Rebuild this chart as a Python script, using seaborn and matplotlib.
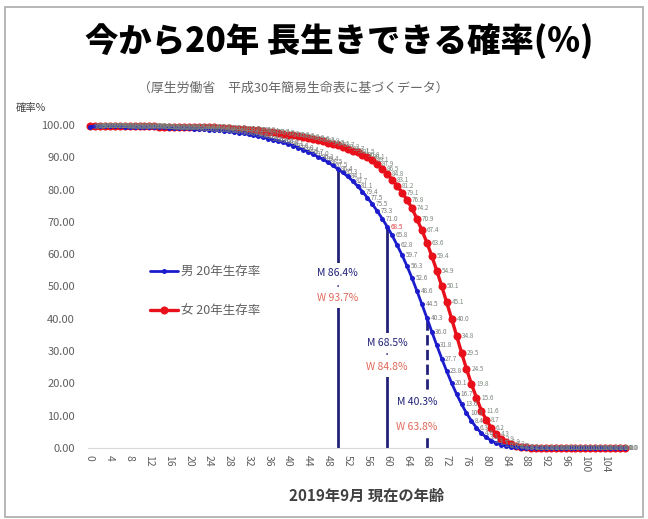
import matplotlib
matplotlib.use("Agg")
import matplotlib.pyplot as plt
import seaborn as sns
import pandas as pd
from matplotlib.patches import Rectangle

ages = list(range(0, 109))

male = [99.5, 99.6, 99.6, 99.6, 99.6, 99.6, 99.6, 99.5, 99.5, 99.5,
        99.4, 99.4, 99.4, 99.3, 99.3, 99.3, 99.2, 99.2, 99.1, 99.1,
        99.0, 98.9, 98.8, 98.7, 98.6, 98.5, 98.4, 98.2, 98.0, 97.8,
        97.6, 97.4, 97.1, 96.8, 96.5, 96.2, 95.8, 95.4, 95.0, 94.6,
        94.1, 93.6, 93.0, 92.4, 91.7, 91.0, 90.2, 89.4, 88.5, 87.5,
        86.4, 85.3, 84.1, 82.7, 81.1, 79.4, 77.5, 75.5, 73.3, 71.0,
        68.5, 65.8, 62.8, 59.7, 56.3, 52.6, 48.6, 44.5, 40.3, 36.0,
        31.8, 27.7, 23.8, 20.1, 16.7, 13.6, 10.8, 8.4, 6.3, 4.6,
        3.3, 2.3, 1.5, 1.0, 0.6, 0.4, 0.2, 0.1, 0.1, 0.0,
        0.0, 0.0, 0.0, 0.0, 0.0, 0.0, 0.0, 0.0, 0.0, 0.0,
        0.0, 0.0, 0.0, 0.0, 0.0, 0.0, 0.0, 0.0, 0.0]

female = [99.6, 99.7, 99.7, 99.7, 99.7, 99.7, 99.7, 99.7, 99.7, 99.6,
          99.6, 99.6, 99.6, 99.6, 99.5, 99.5, 99.5, 99.5, 99.5, 99.5,
          99.5, 99.4, 99.4, 99.4, 99.3, 99.3, 99.2, 99.1, 99.0, 98.9,
          98.8, 98.7, 98.6, 98.4, 98.3, 98.1, 97.9, 97.7, 97.5, 97.3,
          97.0, 96.8, 96.5, 96.2, 95.9, 95.6, 95.3, 94.9, 94.5, 94.1,
          93.7, 93.2, 92.7, 92.1, 91.5, 90.8, 90.1, 89.1, 87.9, 86.5,
          84.8, 83.1, 81.2, 79.1, 76.8, 74.2, 70.9, 67.4, 63.6, 59.4,
          54.9, 50.1, 45.1, 40.0, 34.8, 29.5, 24.5, 19.8, 15.6, 11.6,
          8.7, 6.2, 4.3, 2.9, 1.9, 1.2, 0.7, 0.4, 0.2, 0.1,
          0.1, 0.0, 0.0, 0.0, 0.0, 0.0, 0.0, 0.0, 0.0, 0.0,
          0.0, 0.0, 0.0, 0.0, 0.0, 0.0, 0.0, 0.0, 0.0]

series_names = ["男 20年生存率", "女 20年生存率"]
y_ticks = [0, 10, 20, 30, 40, 50, 60, 70, 80, 90, 100]
x_ticks = list(range(0, 105, 4))

marked_ages = [50, 60, 68]
marked_m = ["M 86.4%", "M 68.5%", "M 40.3%"]
marked_w = ["W 93.7%", "W 84.8%", "W 63.8%"]

title = "今から20年 長生きできる確率(%)"
subtitle = "（厚生労働省　平成30年簡易生命表に基づくデータ）"
ylabel = "確率%"
xlabel = "2019年9月 現在の年齢"

df_m = pd.DataFrame({"age": ages, "rate": male})
df_f = pd.DataFrame({"age": ages, "rate": female})

sns.set_theme(style="white")
plt.rcParams["font.family"] = ["Noto Sans CJK JP", "DejaVu Sans"]

W, H = 648, 519
fig = plt.figure(figsize=(W / 100, H / 100), dpi=100)
ax = fig.add_axes([87.5 / W, (H - 448) / H, 540 / W, 323 / H])

BLUE = "#1c1ccc"
RED = "#e8101a"
NAVY = "#22227a"
SALMON = "#e06a5a"
GRAY = "#5f5f5f"

sns.lineplot(data=df_m, x="age", y="rate", ax=ax, color=BLUE, lw=2.0,
             marker="o", markersize=3.6, markeredgewidth=0, label=series_names[0],
             clip_on=False, zorder=4)
sns.lineplot(data=df_f, x="age", y="rate", ax=ax, color=RED, lw=2.4,
             marker="o", markersize=5.8, markeredgewidth=0, label=series_names[1],
             clip_on=False, zorder=3)

# data labels
for a, v in zip(ages, male):
    c = "#e04040" if a == 60 else "#7c7c7c"
    ax.annotate(f"{v:.1f}", (a, v), xytext=(2.5, 0), textcoords="offset points",
                fontsize=4.6, color=c, ha="left", va="center", zorder=5,
                annotation_clip=False)
for a, v in zip(ages, female):
    ax.annotate(f"{v:.1f}", (a, v), xytext=(3.5, 0), textcoords="offset points",
                fontsize=4.6, color="#7d887d", ha="left", va="center", zorder=5,
                annotation_clip=False)

# vertical marker lines with annotations
text_pos = [(54.2, 50.0, 46.4), (32.5, 28.8, 25.1), (14.2, 10.3, 6.5)]
text_dx = [0, 0, -2.0]
for i, a in enumerate(marked_ages):
    top = male[ages.index(a)]
    ls = "--" if i == 2 else "-"
    ax.plot([a, a], [0, top], color=NAVY, lw=2.0, ls=ls, zorder=2)
    ym, yd, yw = text_pos[i]
    ax.add_patch(Rectangle((a - 0.6, yw - 3.0), 1.2, ym - yw + 6.0,
                           fc="white", ec="none", zorder=2.5))
    ax.text(a + text_dx[i], ym, marked_m[i], fontsize=7.5, color=NAVY,
            ha="center", va="center", zorder=6,
            bbox=dict(boxstyle="square,pad=0.1", fc="white", ec="none"))
    if i < 2:
        ax.text(a, yd, "・", fontsize=6, color=NAVY, ha="center", va="center",
                zorder=6)
    ax.text(a + text_dx[i], yw, marked_w[i], fontsize=7.5, color=SALMON,
            ha="center", va="center", zorder=6,
            bbox=dict(boxstyle="square,pad=0.1", fc="white", ec="none"))

ax.set_xlim(-0.5, 108.5)
ax.set_ylim(0, 100)
ax.set_xticks(x_ticks)
ax.set_xticklabels([str(t) for t in x_ticks], rotation=-90, fontsize=7.5,
                   color=GRAY)
ax.set_yticks(y_ticks)
ax.set_yticklabels([f"{t:.2f}" for t in y_ticks], fontsize=8, color=GRAY)
ax.tick_params(axis="x", length=0, pad=5)
ax.tick_params(axis="y", length=0, pad=9)
ax.set_xlabel("")
ax.set_ylabel("")
for s in ["top", "right", "left"]:
    ax.spines[s].set_visible(False)
ax.spines["bottom"].set_color("#d9d9d9")
ax.spines["bottom"].set_linewidth(0.8)
ax.grid(False)

leg = ax.legend(loc="upper left", bbox_to_anchor=(145 / W, (H - 260) / H),
                bbox_transform=fig.transFigure, frameon=False, fontsize=9,
                labelspacing=2.1, handlelength=2.2, handletextpad=0.3,
                borderaxespad=0)
for t in leg.get_texts():
    t.set_color(GRAY)

fig.text(339 / W, 1 - 42 / H, title, fontsize=24, fontweight="black",
         ha="center", va="center", color="black")
fig.text(293 / W, 1 - 88 / H, subtitle, fontsize=9.3, ha="center",
         va="center", color="#666666")
fig.text(16 / W, 1 - 108 / H, ylabel, fontsize=7.5, ha="left", va="center",
         color="#444444")
fig.text(367 / W, 1 - 496 / H, xlabel, fontsize=11, fontweight="bold",
         ha="center", va="center", color="#404040")

fig.patches.append(Rectangle((5 / W, 2 / H), 638 / W, 510 / H,
                             transform=fig.transFigure, fill=False,
                             ec="#aaaaaa", lw=1.2))

fig.savefig("out.png", dpi=100)
